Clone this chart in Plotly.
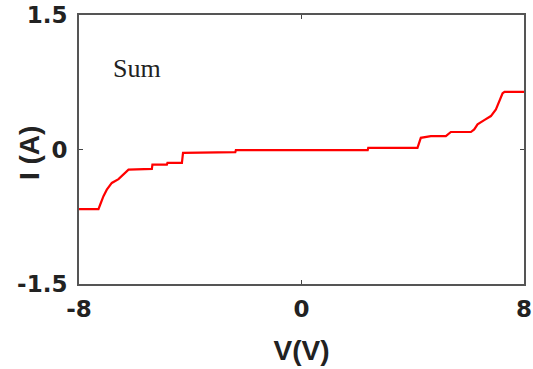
import plotly.graph_objects as go

# Summed I-V characteristic (voltage in V, current in A)
voltage = [-8.0, -7.30, -7.24, -7.12, -7.00, -6.82, -6.58, -6.34, -6.22,
           -5.38, -5.36, -4.84, -4.82, -4.30, -4.26, -2.38, -2.36,
           2.38, 2.40, 4.17, 4.29, 4.65, 5.19, 5.37, 6.09, 6.21, 6.33,
           6.57, 6.81, 6.99, 7.11, 7.23, 7.30, 8.0]
current = [-0.664, -0.664, -0.616, -0.52, -0.448, -0.373, -0.33, -0.26, -0.224,
           -0.216, -0.168, -0.168, -0.15, -0.15, -0.037, -0.03, -0.008,
           -0.008, 0.019, 0.019, 0.13, 0.149, 0.149, 0.195, 0.195, 0.224, 0.28,
           0.328, 0.373, 0.448, 0.54, 0.627, 0.642, 0.642]

x_ticks = [-8, 0, 8]
x_labels = ["-8", "0", "8"]
y_ticks = [-1.5, 0, 1.5]
y_labels = ["-1.5", "0", "1.5"]

fig = go.Figure(go.Scatter(x=voltage, y=current, mode="lines",
                           line=dict(color="#ff0000", width=2.2)))

tick_font = dict(family="DejaVu Sans", size=23, color="#222", weight="bold")
title_font = dict(family="Liberation Sans, Arial", size=28, color="#222", weight="bold")

axis_style = dict(ticks="inside", ticklen=4, tickcolor="#444", mirror="ticks",
                  showline=True, linecolor="#555", linewidth=2, showgrid=False,
                  zeroline=False, tickfont=tick_font, automargin=False)

fig.update_xaxes(range=[-8, 8], tickvals=x_ticks, ticktext=x_labels,
                 ticklabelstandoff=3,
                 title=dict(text="V(V)", font=title_font, standoff=20), **axis_style)
fig.update_yaxes(range=[-1.5, 1.5], tickvals=y_ticks, ticktext=y_labels,
                 ticklabelstandoff=5, **axis_style)

# vertical axis title sits close to the frame, between the tick labels
fig.add_annotation(x=-0.110, y=0.487, xref="paper", yref="paper", text="I (A)",
                   textangle=-90, showarrow=False, xanchor="center", yanchor="middle",
                   font=title_font)

fig.add_annotation(x=0.130, y=0.80, xref="paper", yref="paper", text="Sum",
                   showarrow=False, xanchor="center", yanchor="middle",
                   font=dict(family="Liberation Serif, Times New Roman", size=26, color="#222"))

fig.update_layout(width=533, height=369, margin=dict(l=79, r=9, t=15, b=85),
                  plot_bgcolor="white", paper_bgcolor="white", showlegend=False)

fig.write_html("out.html")
